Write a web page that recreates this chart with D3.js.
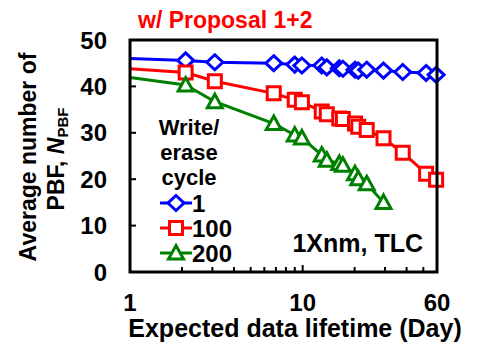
<!DOCTYPE html>
<html>
<head>
<meta charset="utf-8">
<script src="https://cdn.jsdelivr.net/npm/d3@7"></script>
<style>
  body { margin: 0; background: #fff; }
  text { font-family: "Liberation Sans", Arial, sans-serif; font-weight: bold; }
</style>
</head>
<body>
<div id="chart-container"></div>
<script>
// data (day, average number of PBF)
var days1 = [1, 2.1, 3.1, 6.8, 9.0, 9.9, 12.9, 13.8, 16.3, 17.1, 20.1, 21.0, 23.5, 29.4, 38.0, 51.9, 59.3];
var pbf1  = [46.0, 45.6, 45.2, 45.0, 44.7, 44.5, 44.5, 44.1, 43.9, 43.8, 43.6, 43.4, 43.6, 43.4, 43.1, 42.9, 42.5];
var days100 = [1, 2.1, 3.1, 6.8, 9.0, 9.9, 12.9, 13.8, 16.3, 17.1, 20.1, 21.0, 23.5, 29.4, 38.0, 51.9, 59.3];
var pbf100  = [43.8, 43.0, 41.1, 38.5, 37.1, 36.6, 34.6, 34.0, 33.1, 33.0, 32.0, 31.3, 30.6, 28.8, 25.7, 21.2, 19.9];
var days200 = [1, 2.1, 3.1, 6.8, 9.0, 9.9, 12.9, 13.8, 16.3, 17.1, 20.1, 21.0, 23.5, 29.4];
var pbf200  = [41.9, 40.3, 36.7, 32.0, 29.5, 28.9, 25.2, 24.1, 23.4, 23.0, 21.2, 20.1, 19.0, 15.0];
var cycles = ["1", "100", "200"];
var xTickLabels = [1, 10, 60];
var yTickLabels = [0, 10, 20, 30, 40, 50];

var series = [
  {name: cycles[0], days: days1, vals: pbf1, color: "#0000ff", shape: "diamond"},
  {name: cycles[1], days: days100, vals: pbf100, color: "#ff0000", shape: "square"},
  {name: cycles[2], days: days200, vals: pbf200, color: "#008000", shape: "triangle"}
];

var margin = {top: 40, right: 41, bottom: 82, left: 130},
    width = 478 - margin.left - margin.right,
    height = 354 - margin.top - margin.bottom;

var svg = d3.select("#chart-container").append("svg")
    .attr("width", 478)
    .attr("height", 354);
var g = svg.append("g")
    .attr("transform", "translate(" + margin.left + "," + margin.top + ")");

var x = d3.scaleLog().domain([1, 60]).range([0, width]);
var y = d3.scaleLinear().domain([0, 50]).range([height, 0]);

// minor ticks on x (inside)
var minorX = [2, 3, 4, 5, 6, 7, 8, 9, 10, 20, 30, 40, 50];
g.selectAll(".xtick").data(minorX).enter().append("line")
    .attr("x1", function(d) { return x(d); })
    .attr("x2", function(d) { return x(d); })
    .attr("y1", height)
    .attr("y2", function(d) { return d == 10 ? height - 7 : height - 5; })
    .attr("stroke", "#000").attr("stroke-width", 2);

g.selectAll(".ytick").data(yTickLabels).enter().append("line")
    .attr("x1", 0).attr("x2", 6)
    .attr("y1", function(d) { return y(d); })
    .attr("y2", function(d) { return y(d); })
    .attr("stroke", "#000").attr("stroke-width", 2);

g.selectAll(".ylab").data(yTickLabels).enter().append("text")
    .attr("x", -23).attr("y", function(d) { return y(d); })
    .attr("dy", "0.36em")
    .attr("text-anchor", "end")
    .attr("font-size", 24)
    .text(function(d) { return d; });

g.selectAll(".xlab").data(xTickLabels).enter().append("text")
    .attr("x", function(d) { return x(d); })
    .attr("y", height + 39)
    .attr("text-anchor", "middle")
    .attr("font-size", 24)
    .text(function(d) { return d; });

var line = d3.line()
    .x(function(d) { return x(d[0]); })
    .y(function(d) { return y(d[1]); });

// hollow markers like the office-chart ones
function markerPath(shape) {
  var p = d3.path();
  if (shape == "diamond") {
    p.moveTo(0, -7.5); p.lineTo(8, 0); p.lineTo(0, 7.5); p.lineTo(-8, 0); p.closePath();
  } else if (shape == "square") {
    p.rect(-6.5, -6.5, 13, 13);
  } else {
    p.moveTo(0, -7.5); p.lineTo(7.5, 6); p.lineTo(-7.5, 6); p.closePath();
  }
  return p.toString();
}
function marker(sel, shape, color) {
  sel.append("path")
    .attr("d", markerPath(shape))
    .attr("fill", "#fff")
    .attr("stroke", color)
    .attr("stroke-width", 3);
}

series.forEach(function(s) {
  var pts = s.days.map(function(d, i) { return [d, s.vals[i]]; });
  g.append("path").datum(pts)
    .attr("d", line)
    .attr("fill", "none")
    .attr("stroke", s.color)
    .attr("stroke-width", 3);
  pts.filter(function(p) { return p[0] > 1; }).forEach(function(p) {
    var m = g.append("g").attr("transform", "translate(" + x(p[0]) + "," + y(p[1]) + ")");
    marker(m, s.shape, s.color);
  });
});

// frame
g.append("rect")
    .attr("width", width).attr("height", height)
    .attr("fill", "none").attr("stroke", "#000").attr("stroke-width", 3);

// legend
var leg = g.append("g");
["Write/", "erase", "cycle"].forEach(function(t, i) {
  leg.append("text")
    .attr("x", 59).attr("y", 95 + i * 25)
    .attr("text-anchor", "middle")
    .attr("font-size", 22)
    .text(t);
});
series.forEach(function(s, i) {
  var ly = 163 + i * 25;
  leg.append("line")
    .attr("x1", 30).attr("x2", 62)
    .attr("y1", ly).attr("y2", ly)
    .attr("stroke", s.color).attr("stroke-width", 3);
  var m = leg.append("g").attr("transform", "translate(46," + ly + ")");
  marker(m, s.shape, s.color);
  leg.append("text")
    .attr("x", 62).attr("y", ly).attr("dy", "0.36em")
    .attr("font-size", 24)
    .text(s.name);
});

g.append("text")
    .attr("x", width - 14).attr("y", 212)
    .attr("text-anchor", "end")
    .attr("font-size", 25)
    .text("1Xnm, TLC");

// title
svg.append("text")
    .attr("x", 138).attr("y", 28)
    .attr("fill", "#ff0000")
    .attr("font-size", 23)
    .text("w/ Proposal 1+2");

// axis titles
svg.append("text")
    .attr("x", 295).attr("y", 337)
    .attr("text-anchor", "middle")
    .attr("font-size", 25)
    .text("Expected data lifetime (Day)");

svg.append("text")
    .attr("transform", "translate(36,157) rotate(-90)")
    .attr("text-anchor", "middle")
    .attr("font-size", 23)
    .text("Average number of");
var yt2 = svg.append("text")
    .attr("transform", "translate(64,159) rotate(-90)")
    .attr("text-anchor", "middle")
    .attr("font-size", 23);
yt2.append("tspan").text("PBF, ");
yt2.append("tspan").attr("font-style", "italic").text("N");
yt2.append("tspan").attr("font-size", 15).attr("dy", 4).text("PBF");
</script>
</body>
</html>
